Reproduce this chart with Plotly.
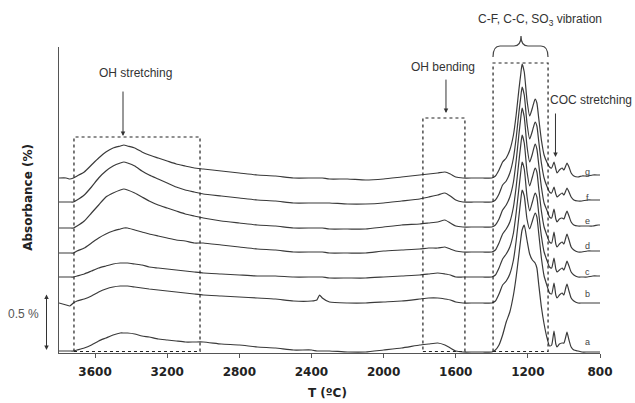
import plotly.graph_objects as go

# Wavenumber grid (x axis, labelled "T (ºC)" in the original)
wavenumber = [3800, 3760, 3740, 3720, 3700, 3660, 3620, 3580, 3540, 3500,
              3460, 3440, 3420, 3380, 3340, 3300, 3250, 3200, 3150, 3100,
              3050, 3000, 2900, 2800, 2700, 2600, 2500, 2400, 2370, 2355,
              2340, 2300, 2200, 2100, 2000, 1900, 1800, 1750, 1700, 1660,
              1630, 1600, 1560, 1500, 1450, 1400, 1380, 1360, 1340, 1320,
              1300, 1280, 1265, 1250, 1240, 1232, 1220, 1205, 1190, 1175,
              1160, 1150, 1140, 1125, 1110, 1095, 1080, 1068, 1055, 1045,
              1038, 1025, 1010, 1000, 990, 983, 972, 960, 945, 922,
              900, 870, 840, 810, 800]

# Absorbance (%) of each stacked spectrum
spec_g = [1.75, 1.75, 1.74, 1.75, 1.77, 1.81, 1.88, 1.95, 2.01, 2.05,
          2.07, 2.08, 2.07, 2.05, 2.01, 1.98, 1.95, 1.92, 1.89, 1.87,
          1.85, 1.84, 1.82, 1.80, 1.78, 1.77, 1.75, 1.75, 1.75, 1.75,
          1.75, 1.74, 1.74, 1.73, 1.74, 1.76, 1.78, 1.79, 1.80, 1.81,
          1.79, 1.76, 1.75, 1.75, 1.75, 1.75, 1.77, 1.83, 1.91, 1.95,
          2.03, 2.18, 2.38, 2.63, 2.78, 2.89, 2.81, 2.53, 2.37, 2.45,
          2.54, 2.50, 2.35, 2.13, 1.98, 1.91, 1.86, 1.85, 1.91, 1.84,
          1.80, 1.83, 1.85, 1.83, 1.87, 1.90, 1.86, 1.80, 1.77, 1.76,
          1.77, 1.77, 1.78, 1.78, 1.78]
spec_f = [1.51, 1.51, 1.51, 1.51, 1.53, 1.58, 1.66, 1.75, 1.82, 1.87,
          1.90, 1.91, 1.90, 1.87, 1.82, 1.78, 1.74, 1.70, 1.66, 1.63,
          1.61, 1.59, 1.57, 1.55, 1.53, 1.52, 1.50, 1.50, 1.50, 1.50,
          1.50, 1.50, 1.49, 1.49, 1.50, 1.52, 1.54, 1.56, 1.58, 1.60,
          1.57, 1.53, 1.51, 1.51, 1.51, 1.51, 1.53, 1.59, 1.68, 1.72,
          1.80, 1.95, 2.15, 2.40, 2.55, 2.66, 2.58, 2.30, 2.14, 2.22,
          2.31, 2.27, 2.12, 1.90, 1.75, 1.67, 1.61, 1.60, 1.66, 1.59,
          1.56, 1.58, 1.60, 1.58, 1.62, 1.65, 1.61, 1.56, 1.53, 1.52,
          1.52, 1.53, 1.53, 1.53, 1.53]
spec_e = [1.25, 1.25, 1.25, 1.25, 1.27, 1.32, 1.40, 1.48, 1.56, 1.60,
          1.63, 1.64, 1.63, 1.60, 1.56, 1.52, 1.48, 1.45, 1.42, 1.39,
          1.37, 1.35, 1.32, 1.30, 1.28, 1.27, 1.25, 1.25, 1.25, 1.25,
          1.25, 1.24, 1.24, 1.24, 1.26, 1.28, 1.29, 1.30, 1.31, 1.33,
          1.30, 1.27, 1.26, 1.26, 1.26, 1.26, 1.28, 1.34, 1.43, 1.48,
          1.56, 1.71, 1.92, 2.18, 2.34, 2.45, 2.36, 2.07, 1.91, 1.99,
          2.09, 2.04, 1.89, 1.66, 1.50, 1.43, 1.36, 1.35, 1.44, 1.34,
          1.31, 1.34, 1.35, 1.34, 1.39, 1.42, 1.37, 1.31, 1.28, 1.27,
          1.27, 1.27, 1.27, 1.28, 1.28]
spec_d = [1.00, 1.00, 1.00, 1.00, 1.02, 1.05, 1.10, 1.15, 1.19, 1.22,
          1.24, 1.25, 1.25, 1.23, 1.21, 1.19, 1.17, 1.15, 1.13, 1.12,
          1.10, 1.10, 1.08, 1.06, 1.04, 1.03, 1.01, 1.01, 1.01, 1.01,
          1.01, 1.00, 1.00, 1.00, 1.02, 1.03, 1.04, 1.05, 1.05, 1.06,
          1.04, 1.02, 1.01, 1.01, 1.01, 1.01, 1.03, 1.10, 1.19, 1.24,
          1.31, 1.46, 1.66, 1.91, 2.07, 2.18, 2.10, 1.82, 1.67, 1.76,
          1.85, 1.81, 1.65, 1.42, 1.26, 1.18, 1.11, 1.10, 1.21, 1.09,
          1.06, 1.09, 1.11, 1.09, 1.15, 1.19, 1.13, 1.06, 1.03, 1.01,
          1.01, 1.02, 1.02, 1.02, 1.02]
spec_c = [0.76, 0.76, 0.76, 0.76, 0.77, 0.79, 0.82, 0.85, 0.87, 0.89,
          0.90, 0.90, 0.90, 0.89, 0.88, 0.86, 0.85, 0.84, 0.83, 0.82,
          0.81, 0.80, 0.79, 0.78, 0.77, 0.77, 0.76, 0.76, 0.76, 0.76,
          0.76, 0.75, 0.75, 0.75, 0.76, 0.77, 0.78, 0.79, 0.80, 0.79,
          0.78, 0.76, 0.76, 0.76, 0.76, 0.76, 0.78, 0.85, 0.94, 0.99,
          1.06, 1.20, 1.40, 1.64, 1.80, 1.91, 1.84, 1.57, 1.42, 1.51,
          1.60, 1.56, 1.40, 1.17, 1.01, 0.93, 0.86, 0.85, 0.95, 0.84,
          0.81, 0.83, 0.85, 0.83, 0.88, 0.92, 0.87, 0.81, 0.78, 0.76,
          0.76, 0.76, 0.77, 0.77, 0.77]
spec_b = [0.50, 0.48, 0.47, 0.50, 0.52, 0.54, 0.57, 0.61, 0.64, 0.66,
          0.67, 0.67, 0.67, 0.66, 0.65, 0.64, 0.63, 0.62, 0.61, 0.60,
          0.59, 0.58, 0.57, 0.56, 0.55, 0.54, 0.52, 0.52, 0.53, 0.58,
          0.55, 0.51, 0.50, 0.50, 0.51, 0.52, 0.54, 0.55, 0.55, 0.54,
          0.53, 0.51, 0.50, 0.50, 0.50, 0.50, 0.52, 0.59, 0.68, 0.72,
          0.79, 0.93, 1.12, 1.36, 1.52, 1.63, 1.57, 1.34, 1.24, 1.32,
          1.40, 1.36, 1.20, 0.95, 0.77, 0.68, 0.60, 0.59, 0.70, 0.58,
          0.55, 0.58, 0.60, 0.58, 0.65, 0.69, 0.62, 0.55, 0.52, 0.50,
          0.50, 0.50, 0.50, 0.50, 0.50]
spec_a = [0.02, 0.02, 0.02, 0.02, 0.03, 0.05, 0.08, 0.12, 0.15, 0.18,
          0.20, 0.20, 0.20, 0.19, 0.17, 0.16, 0.14, 0.13, 0.12, 0.11,
          0.11, 0.11, 0.09, 0.08, 0.06, 0.05, 0.03, 0.03, 0.02, 0.02,
          0.02, 0.02, 0.01, 0.01, 0.03, 0.05, 0.08, 0.09, 0.10, 0.08,
          0.05, 0.02, 0.01, 0.01, 0.01, 0.01, 0.03, 0.08, 0.18, 0.31,
          0.41, 0.58, 0.76, 0.98, 1.13, 1.23, 1.28, 1.13, 0.99, 0.93,
          0.90, 0.85, 0.69, 0.46, 0.29, 0.16, 0.07, 0.08, 0.22, 0.09,
          0.06, 0.09, 0.10, 0.10, 0.16, 0.21, 0.13, 0.06, 0.03, 0.02,
          0.01, 0.01, 0.01, 0.01, 0.01]

series_names = ["a", "b", "c", "d", "e", "f", "g"]
series_values = [spec_a, spec_b, spec_c, spec_d, spec_e, spec_f, spec_g]

x_ticks = [3600, 3200, 2800, 2400, 2000, 1600, 1200, 800]

# Marked regions (wavenumber start, end, box top)
regions = [(3717, 3018, 2.16), (1782, 1549, 2.35), (1393, 1088, 2.90)]

LINE = "#3a3a3a"
TXT = "#333333"
SANS = "Liberation Sans, Arial, sans-serif"
BOLD = "DejaVu Sans, Verdana, sans-serif"

fig = go.Figure()
for name, vals in zip(series_names, series_values):
    fig.add_trace(go.Scatter(x=wavenumber, y=vals, mode="lines", name=name,
                             line=dict(color=LINE, width=1.2, shape="spline", smoothing=0.5),
                             showlegend=False, hoverinfo="skip"))

for x0, x1, top in regions:
    fig.add_shape(type="rect", xref="x", yref="y", x0=x0, x1=x1, y0=0.015, y1=top,
                  line=dict(color="#222", width=1.2, dash="dot"), layer="above")

# curly brace above C-F region (paper coordinates)
fig.add_shape(type="path", xref="paper", yref="paper",
              path=("M 0.8022,0.9673 Q 0.8022,1.0033 0.8152,1.0033 L 0.8410,1.0033 "
                    "Q 0.8540,1.0033 0.8540,1.0359 Q 0.8540,1.0033 0.8669,1.0033 "
                    "L 0.8909,1.0033 Q 0.9039,1.0033 0.9039,0.9673"),
              line=dict(color="#444", width=1.2))

ann = []
def text(x, y, s, size=12, color=TXT, family=SANS, xanchor="center", angle=0):
    ann.append(dict(x=x, y=y, xref="paper", yref="paper", text=s, showarrow=False,
                    xanchor=xanchor, yanchor="middle", textangle=angle,
                    font=dict(size=size, color=color, family=family)))

def arrow(x, y, ay, **kw):
    ann.append(dict(x=x, y=y, xref="paper", yref="paper", text="", showarrow=True,
                    ax=0, ay=ay, arrowhead=2, arrowsize=0.9, arrowwidth=1,
                    arrowcolor="#333", **kw))

text(0.1405, 0.915, "OH stretching")
text(0.7098, 0.9346, "OH bending")
text(0.889, 1.088, "C-F, C-C, SO<sub>3</sub> vibration")
text(1.0628, 0.827, "COC stretching", xanchor="right")
text(-0.0647, 0.1275, "0.5 %", color="#555")
arrow(0.1183, 0.709, -46)
arrow(0.7153, 0.784, -35)
arrow(0.9177, 0.6405, -45)
arrow(-0.0231, 0.0098, -57, arrowside="end+start", startarrowhead=2, startarrowsize=0.9)

label_y = {"g": 0.5915, "f": 0.5065, "e": 0.4314, "d": 0.3497,
           "c": 0.2647, "b": 0.1928, "a": 0.0359}
for name in series_names:
    text(0.976, label_y[name], name, size=9, color="#444")

text(0.497, -0.131, "<b>T (ºC)</b>", size=12, color="#222", family=BOLD)
text(-0.0573, 0.507, "<b>Absorbance (%)</b>", size=12, color="#222", family=BOLD, angle=-90)

fig.update_layout(
    width=635, height=403,
    margin=dict(l=59, r=35, t=47, b=50),
    paper_bgcolor="white", plot_bgcolor="white",
    annotations=ann,
    xaxis=dict(range=[3800, 800], tickvals=x_ticks, ticks="outside", ticklen=4,
               tickcolor="#555", showline=True, linecolor="#555", linewidth=1,
               showgrid=False, zeroline=False, ticklabelstandoff=4,
               tickfont=dict(family=BOLD, size=12, color="#222", weight="bold")),
    yaxis=dict(range=[0, 3.06], showline=True, linecolor="#555", linewidth=1,
               showgrid=False, zeroline=False, showticklabels=False, ticks=""),
)

fig.write_html("out.html")
